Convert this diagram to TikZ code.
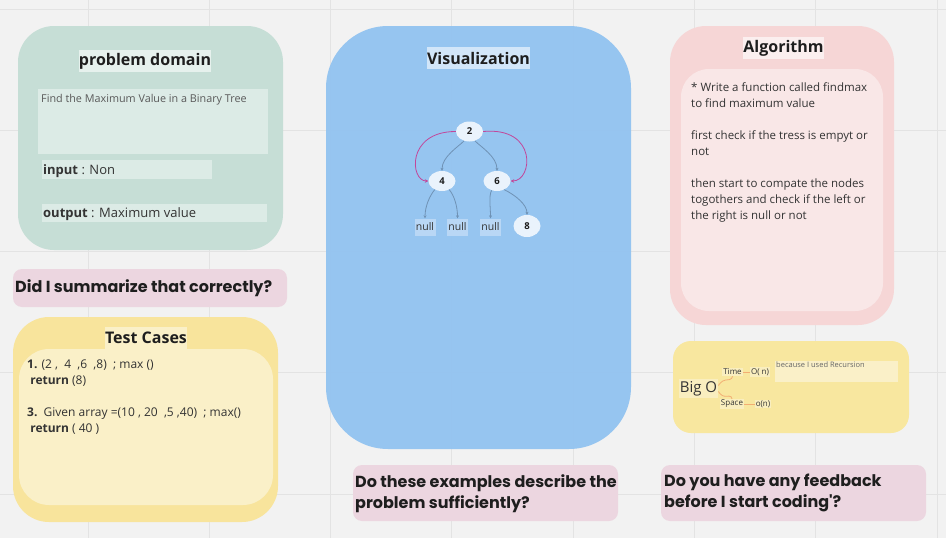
\documentclass[tikz,border=0pt]{standalone}
\usepackage{fontspec}
\setmainfont{Open Sans}
\newfontfamily\qfont{Poppins}
\usetikzlibrary{arrows.meta,shapes.geometric,calc}
\definecolor{bgc}{HTML}{F2F2F2}
\definecolor{gridc}{HTML}{E3E3E3}
\definecolor{greenO}{HTML}{C6DED6}
\definecolor{greenI}{HTML}{DCEBE6}
\definecolor{greenT}{HTML}{E6F1ED}
\definecolor{pinkQ}{HTML}{ECD6E0}
\definecolor{yelO}{HTML}{F8E49C}
\definecolor{yelI}{HTML}{FAF0C8}
\definecolor{blueB}{HTML}{94C4F0}
\definecolor{blueT}{HTML}{D2E6F9}
\definecolor{treeN}{HTML}{EAF3FC}
\definecolor{nullB}{HTML}{B9D7F5}
\definecolor{edgeC}{HTML}{6F92B5}
\definecolor{magC}{HTML}{C2479A}
\definecolor{redO}{HTML}{F6D6D6}
\definecolor{redI}{HTML}{F9E7E7}
\definecolor{redT}{HTML}{FBEFEF}
\definecolor{bigB}{HTML}{F8E79F}
\definecolor{bigL}{HTML}{F9EEBF}
\definecolor{oraC}{HTML}{F2AE73}
\definecolor{txt}{HTML}{333333}
\definecolor{dark}{HTML}{1E1E1E}
\tikzset{
  panel/.style={rounded corners=#1},
  title/.style={font=\fontsize{16}{18}\selectfont\bfseries, text=dark, inner sep=0pt, minimum height=22pt},
  body/.style={font=\fontsize{11.5}{16}\selectfont, text=txt, inner sep=0pt, align=left},
  quest/.style={font=\qfont\bfseries\fontsize{16}{21}\selectfont, text=dark, inner sep=0pt, align=left},
  tnode/.style={ellipse, fill=treeN, minimum width=27pt, minimum height=20pt, inner sep=0pt, font=\fontsize{9.5}{10}\selectfont\bfseries, text=dark},
  nullbox/.style={fill=nullB, minimum width=21pt, minimum height=17pt, inner sep=0pt, font=\fontsize{10.5}{11}\selectfont, text=txt},
  tedge/.style={draw=edgeC, line width=0.8pt, -{Stealth[length=3pt,width=3pt]}},
  medge/.style={draw=magC, line width=0.8pt, -{Stealth[length=3.5pt,width=3.5pt]}},
  olab/.style={fill=bigL, inner sep=1pt, font=\fontsize{8}{9}\selectfont, text=txt},
  oline/.style={draw=oraC, line width=0.8pt},
}
\begin{document}
\begin{tikzpicture}[x=1pt,y=-1pt]
\useasboundingbox (0,0) rectangle (946,538);
\fill[bgc] (0,0) rectangle (946,538);
% grid
\foreach \gx in {88,209.3,330.6,451.9,573.2,694.5,815.8,937.1}
  \draw[gridc, line width=1pt] (\gx,0) -- (\gx,538);
\foreach \gy in {9,130.3,251.6,372.9,494.2}
  \draw[gridc, line width=1pt] (0,\gy) -- (946,\gy);

% ---------- problem domain ----------
\fill[greenO, panel=36pt] (18,26) rectangle (283,250);
\node[title, fill=greenT, minimum width=128pt] (pdt) at (145,61) {problem domain};
\fill[greenI] (38,89) rectangle (268,154);
\node[body, anchor=west, font=\fontsize{10.8}{12}\selectfont, text=black!65] (pdd) at (41,100) {Find the Maximum Value in a Binary Tree};
\fill[greenI] (42,160) rectangle (212,179);
\node[body, anchor=west, font=\fontsize{13}{15}\selectfont] (pin) at (43,171) {\textbf{input} : Non};
\fill[greenI] (42,204) rectangle (267,222);
\node[body, anchor=west, font=\fontsize{13}{15}\selectfont] (pout) at (43,214.5) {\textbf{output} : Maximum value};

% ---------- question 1 ----------
\fill[pinkQ, panel=9pt] (13,269) rectangle (287,307);
\node[quest, anchor=west] (q1) at (15,288) {Did I summarize that correctly?};

% ---------- test cases ----------
\fill[yelO, panel=36pt] (13,317) rectangle (278,522);
\fill[yelI, panel=30pt] (19,349) rectangle (273,505);
\node[title, fill=yelI, minimum width=82pt] (tct) at (146,338) {Test Cases};
\node[body, anchor=north west, font=\fontsize{12}{16}\selectfont] (tc) at (27,360)
 {\textbf{1.} (2 ,\ \ 4\ \ ,6\ \ ,8)\ \ ; max ()\\
  \ \textbf{return} (8)\\[16pt]
  \textbf{3.}\ \ Given array =(10 , 20\ \ ,5 ,40)\ \ ; max()\\
  \ \textbf{return} ( 40 )};

% ---------- visualization ----------
\fill[blueB, panel=62pt, fill opacity=0.97] (326,26) rectangle (631,449);
\node[title, fill=blueT, minimum width=101pt] (vt) at (478.5,58) {Visualization};
\node[tnode] (n2) at (469.5,131.5) {2};
\node[tnode] (n4) at (442,181) {4};
\node[tnode] (n6) at (497,181) {6};
\node[tnode, minimum height=22pt] (n8) at (527,226) {8};
\node[nullbox] (u1) at (425,227) {null};
\node[nullbox] (u2) at (457.5,227) {null};
\node[nullbox] (u3) at (490.5,227) {null};
\draw[tedge] (n2.240) .. controls +(-6,6) and +(0,-14) .. (n4.north);
\draw[tedge] (n2.300) .. controls +(6,6) and +(0,-14) .. (n6.north);
\draw[tedge] (n4.230) .. controls +(-5,6) and +(0,-12) .. (u1.north);
\draw[tedge] (n4.310) .. controls +(5,6) and +(0,-12) .. (u2.north);
\draw[tedge] (n6.240) .. controls +(-3,6) and +(0,-12) .. (u3.north);
\draw[tedge] (n6.310) .. controls +(12,6) and +(0,-10) .. (n8.north);
\draw[medge] (n2.west) .. controls +(-50,0) and +(-18,0) .. (n4.west);
\draw[medge] (n2.east) .. controls +(55,-5) and +(22,0) .. (n6.east);

% ---------- algorithm ----------
\fill[redO, panel=36pt] (670,26) rectangle (894,325);
\fill[redI, panel=28pt] (681,69) rectangle (883,311);
\node[title, fill=redT, minimum width=79pt] (at) at (783.5,48) {Algorithm};
\node[body, anchor=north west] (alg) at (691,82)
 {* Write a function called findmax\\
  to find maximum value\\[16pt]
  first check if the tress is empyt or\\
  not\\[16pt]
  then start to compate the nodes\\
  togothers and check if the left or\\
  the right is null or not};

% ---------- Big O ----------
\fill[bigB, panel=18pt] (673,341) rectangle (909,433);
\node[fill=bigL, inner sep=1pt, minimum height=19pt, font=\fontsize{15}{17}\selectfont, text=txt] (bigo) at (698.5,388.5) {Big O};
\node[olab] (time) at (732.5,372) {Time};
\node[olab] (on) at (760,372) {O( n)};
\node[olab] (space) at (732,404) {Space};
\node[olab] (on2) at (763,404) {o(n)};
\fill[yelI] (775,361) rectangle (898,382);
\node[anchor=north west, inner sep=0pt, font=\fontsize{7.5}{9}\selectfont, text=black!60] (bec) at (776,362) {because I used Recursion};
\draw[oline, rounded corners=3pt] ([yshift=3pt]bigo.east) -- ++(4,-5) -- ($(time.south)+(0,3)$) -- (time.south);
\draw[oline, rounded corners=3pt] ([yshift=-3pt]bigo.east) -- ++(4,5) -- ($(space.north)+(0,-3)$) -- (space.north);
\draw[oline] (time.east) -- (on.west);
\draw[oline] (space.east) -- (on2.west);

% ---------- questions 2,3 ----------
\fill[pinkQ, panel=9pt] (353,465) rectangle (618,521);
\node[quest, anchor=north west] (q2) at (355,474) {Do these examples describe the\\problem sufficiently?};
\fill[pinkQ, panel=9pt] (661,465) rectangle (926,521);
\node[quest, anchor=north west] (q3) at (664,474) {Do you have any feedback\\before I start coding'?};
\end{tikzpicture}
\end{document}
